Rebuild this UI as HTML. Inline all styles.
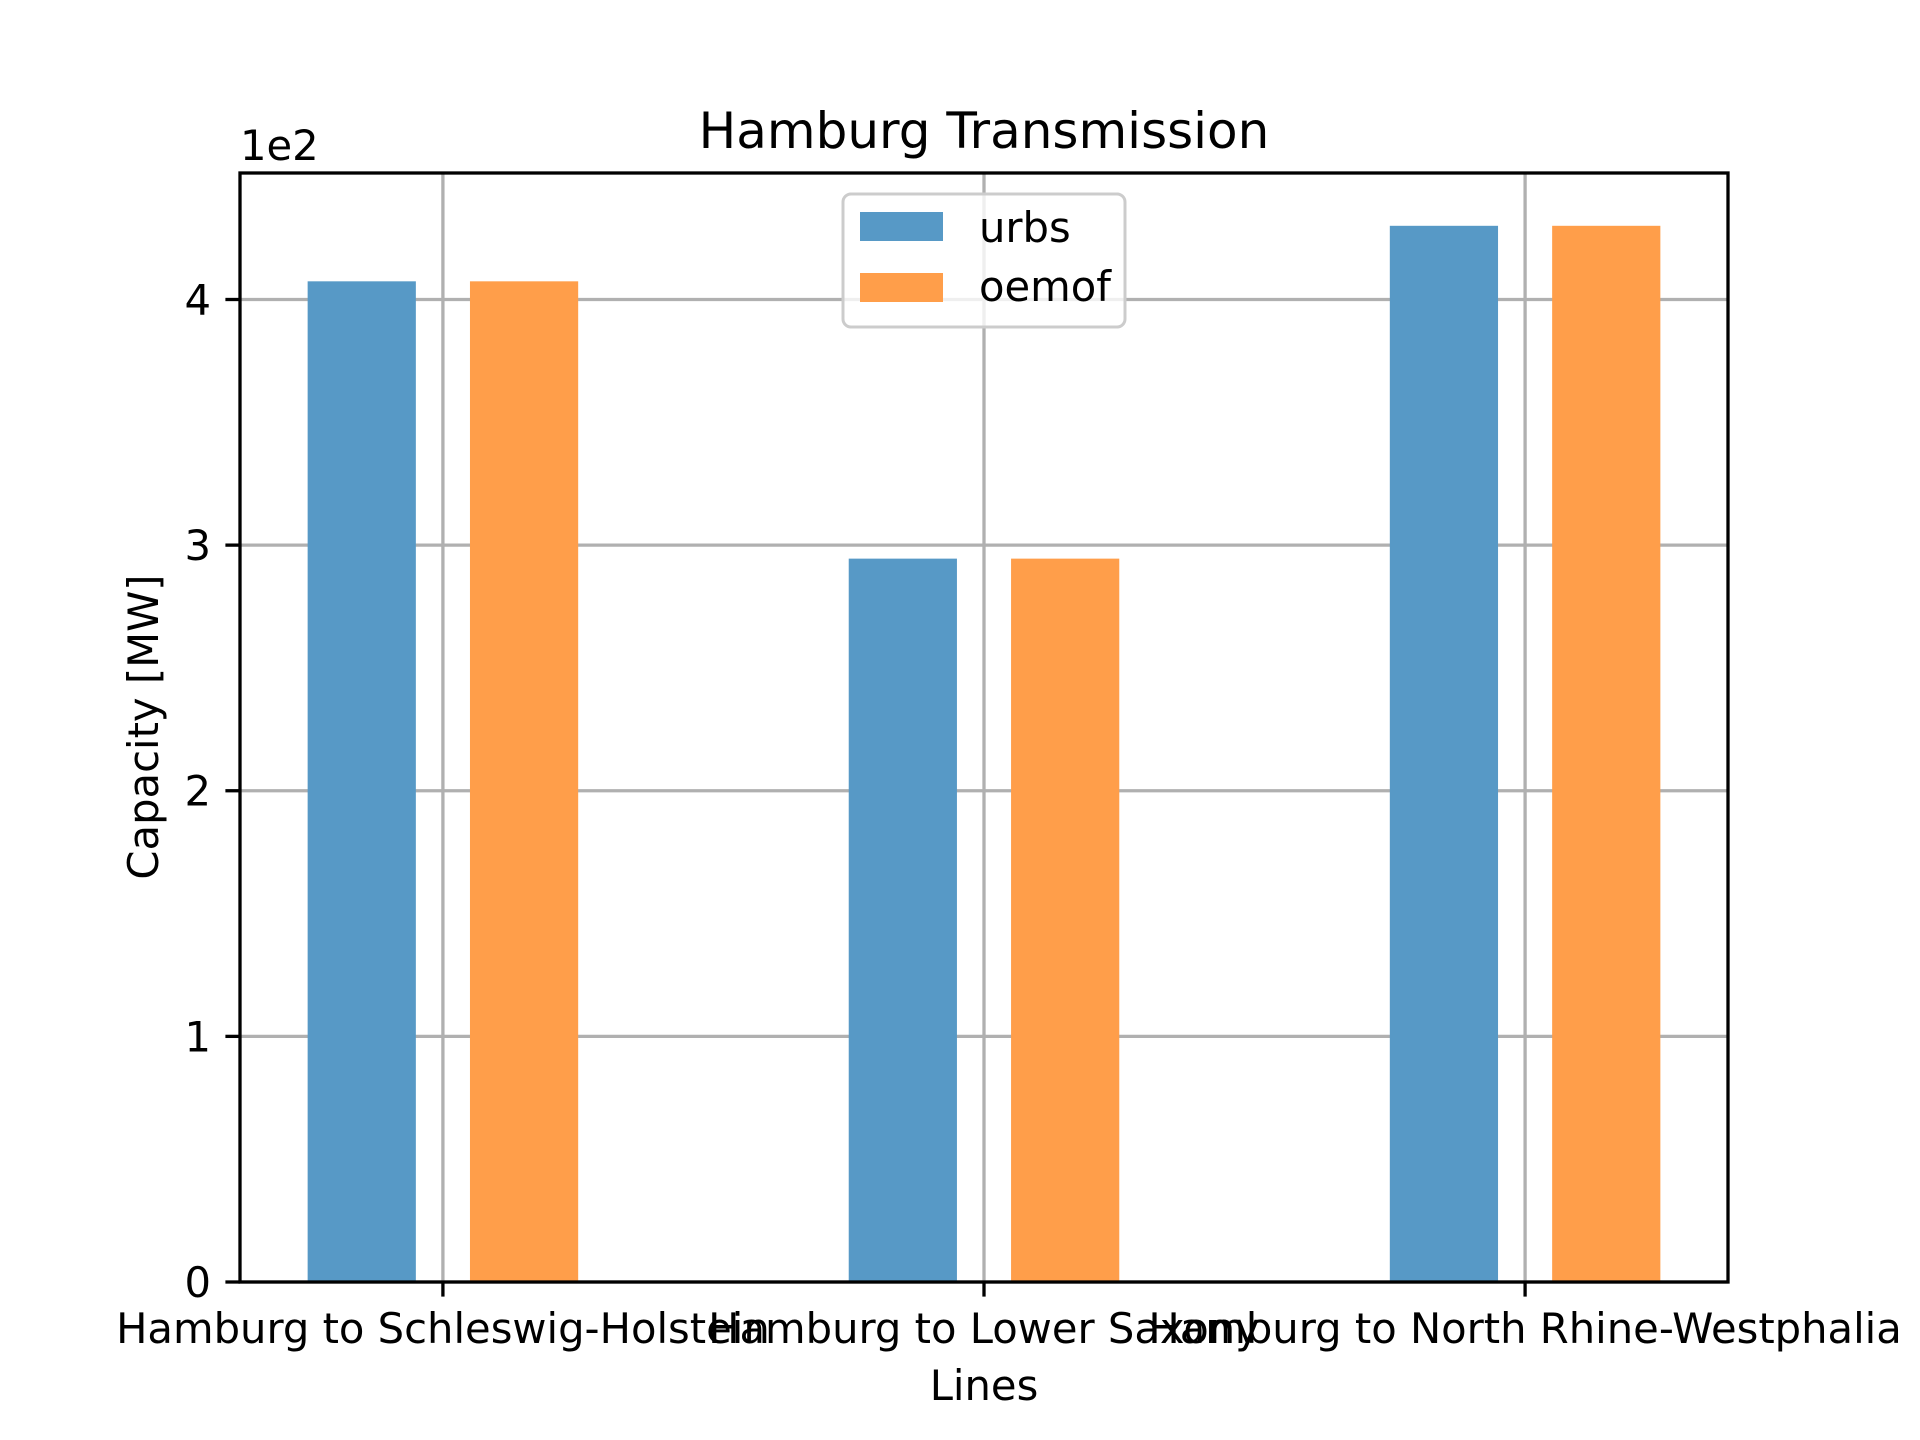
<!DOCTYPE html>
<html><head><meta charset="utf-8"><style>
html,body{margin:0;padding:0;background:#fff}
svg{display:block;font-family:"DejaVu Sans","Liberation Sans",sans-serif}
</style></head><body>
<svg id="chart" width="1920" height="1440" viewBox="0 0 1920 1440">
<rect x="0" y="0" width="1920" height="1440" fill="#fff"/>
<g id="grid"></g>
<g id="bars"></g>
<g id="axes"></g>
<text x="984" y="148" font-size="50" text-anchor="middle">Hamburg Transmission</text>
<text x="240" y="160" font-size="41.7">1e2</text>
<text x="984" y="1400" font-size="41.7" text-anchor="middle">Lines</text>
<text transform="translate(158,727) rotate(-90)" font-size="41.7" text-anchor="middle">Capacity [MW]</text>
<g>
<rect x="843" y="194" width="282" height="133" rx="8" fill="#fff" fill-opacity="0.8" stroke="#cccccc" stroke-width="3"/>
<g>
<rect x="860" y="212" width="83" height="29" fill="#5799c6"/>
<text x="979" y="242" font-size="41.7">urbs</text>
</g>
<g>
<rect x="860" y="273" width="83" height="29" fill="#ff9e4a"/>
<text x="979" y="301" font-size="41.7">oemof</text>
</g>
</g>
</svg>
<script>
const categories = ["Hamburg to Schleswig-Holstein", "Hamburg to Lower Saxony", "Hamburg to North Rhine-Westphalia"];
const urbsValues = [4.074, 2.945, 4.30];
const oemofValues = [4.074, 2.945, 4.30];
const yTicks = [0, 1, 2, 3, 4];
const yTickLabels = ["0", "1", "2", "3", "4"];

const NS = "http://www.w3.org/2000/svg";
const L = 240, R = 1728, T = 173, B = 1282;
const xMin = -0.375, xMax = categories.length - 1 + 0.375;
const yMax = Math.max(...urbsValues, ...oemofValues) * 1.05;
const xs = v => L + (v - xMin) / (xMax - xMin) * (R - L);
const ys = v => B - v / yMax * (B - T);
function mk(tag, attrs, parent) {
  const e = document.createElementNS(NS, tag);
  for (const k in attrs) e.setAttribute(k, attrs[k]);
  parent.appendChild(e);
  return e;
}
const grid = document.getElementById("grid");
const bars = document.getElementById("bars");
const axes = document.getElementById("axes");

yTicks.forEach((t, i) => {
  const y = ys(t);
  const g = mk("line", {x1: L, x2: R, y1: y, y2: y, stroke: "#b0b0b0", "stroke-width": 3.3}, grid);
  
  
  const tk = mk("line", {x1: L - 14.6, x2: L, y1: y, y2: y, stroke: "#000", "stroke-width": 3.3}, axes);
  
  
  const lb = mk("text", {x: L - 29, y: y + 15, "font-size": 41.7, "text-anchor": "end"}, axes);
  lb.textContent = yTickLabels[i];
  
  
});
categories.forEach((c, i) => {
  const x = xs(i);
  const g = mk("line", {x1: x, x2: x, y1: T, y2: B, stroke: "#b0b0b0", "stroke-width": 3.3}, grid);
  
  
  const tk = mk("line", {x1: x, x2: x, y1: B, y2: B + 14.6, stroke: "#000", "stroke-width": 3.3}, axes);
  
  
  const lb = mk("text", {x: x, y: 1343, "font-size": 41.7, "text-anchor": "middle"}, axes);
  lb.textContent = c;
  
  
  const w = 0.2;
  const b1 = mk("rect", {x: xs(i - 0.15 - w / 2), y: ys(urbsValues[i]), width: xs(w) - xs(0), height: B - ys(urbsValues[i]), fill: "#5799c6"}, bars);
  
  
  const b2 = mk("rect", {x: xs(i + 0.15 - w / 2), y: ys(oemofValues[i]), width: xs(w) - xs(0), height: B - ys(oemofValues[i]), fill: "#ff9e4a"}, bars);
  
  
});
const frame = mk("rect", {x: L, y: T, width: R - L, height: B - T, fill: "none", stroke: "#000", "stroke-width": 3.3}, axes);


</script>
</body></html>
